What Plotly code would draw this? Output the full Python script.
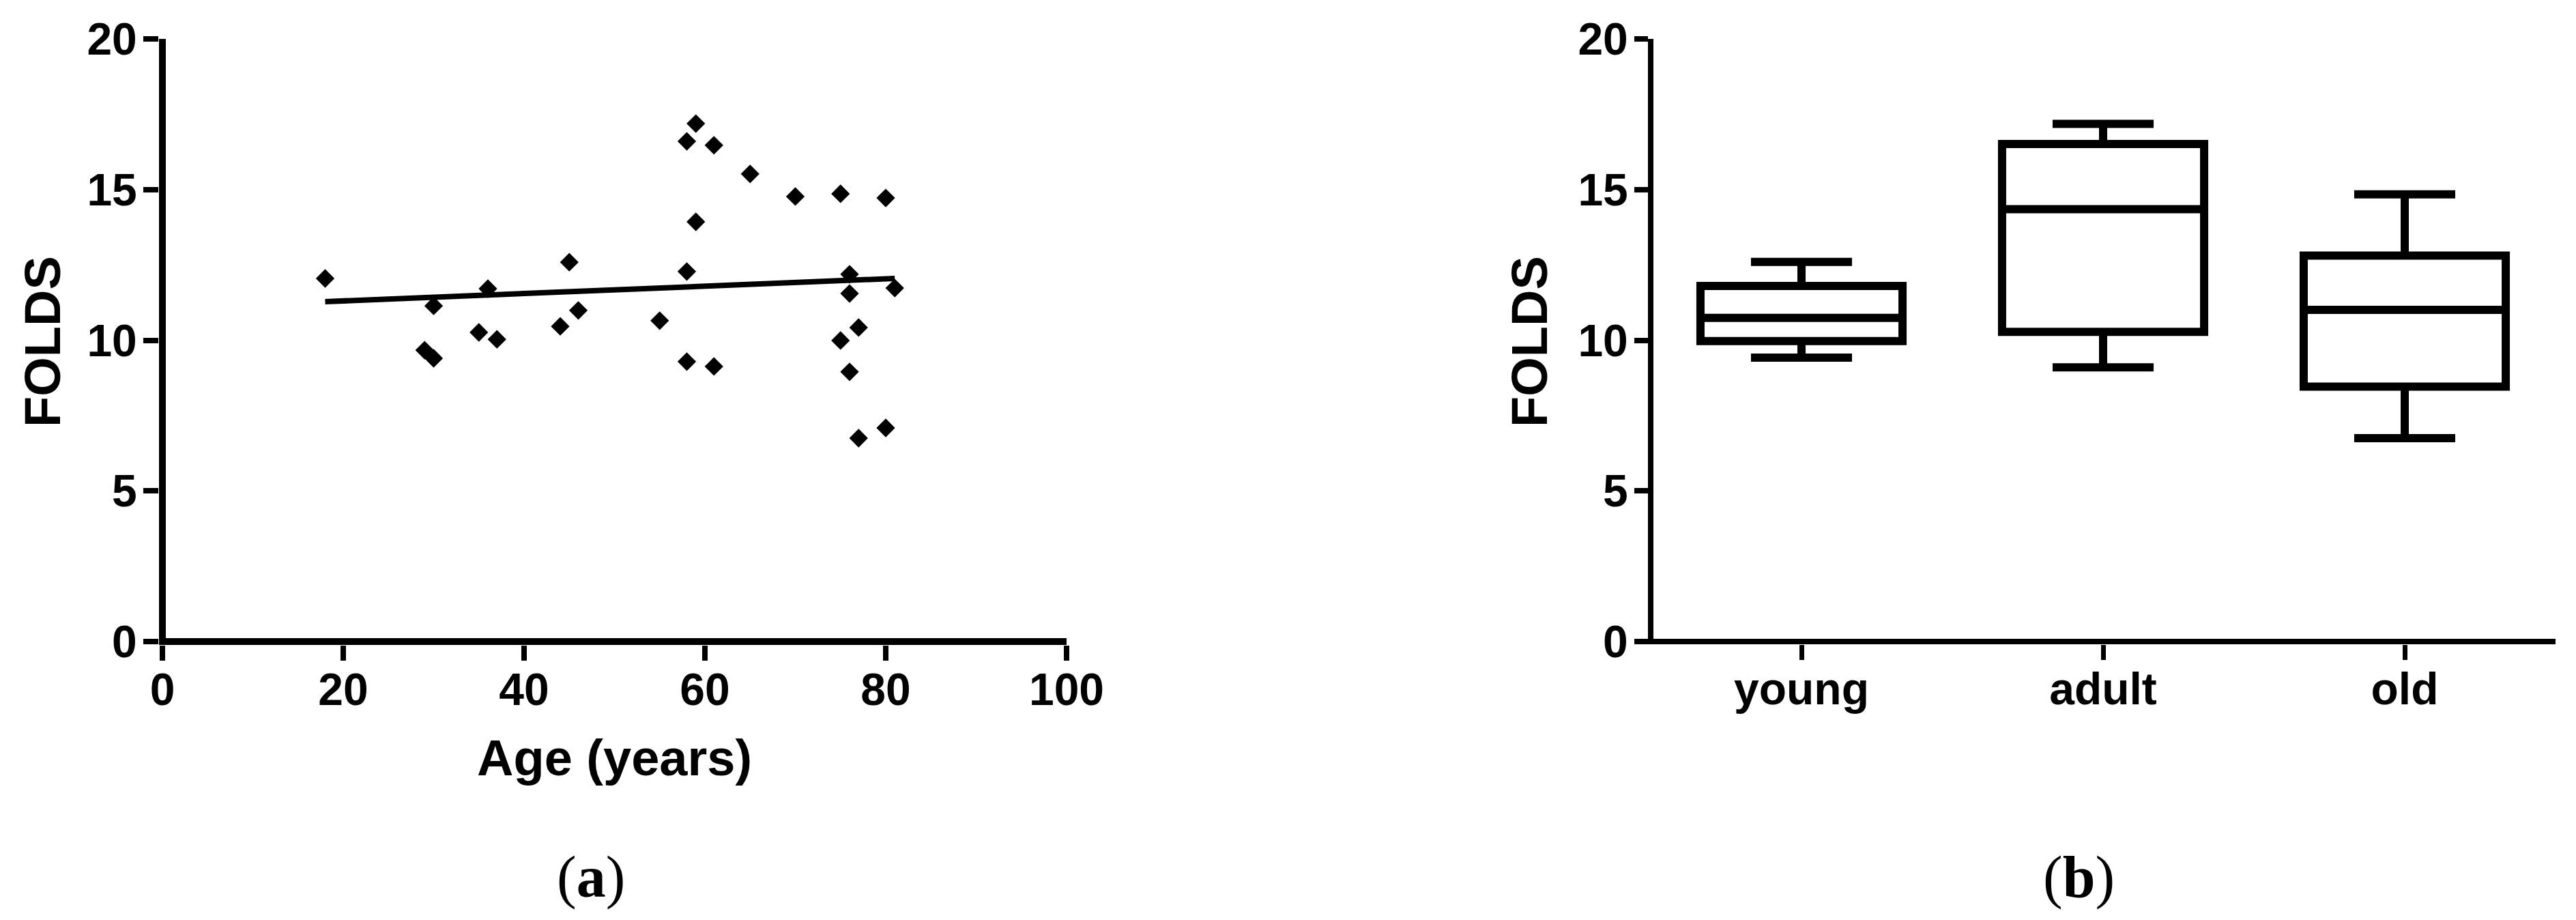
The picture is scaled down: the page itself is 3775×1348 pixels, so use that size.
import plotly.graph_objects as go

# ---- data ----
age = [18, 29, 30, 30, 35, 36, 37, 44, 45, 46,
       55, 58, 58, 58, 59, 59, 61, 61, 65, 70,
       75, 75, 76, 76, 76, 77, 77, 80, 80, 81]
folds = [12.05, 9.67, 9.40, 11.14, 10.26, 11.71, 10.03, 10.46, 12.59, 10.99,
         10.65, 16.60, 12.28, 9.29, 17.19, 13.93, 16.47, 9.13, 15.52, 14.77,
         14.86, 9.99, 12.19, 11.55, 8.95, 10.42, 6.75, 14.72, 7.09, 11.73]

fit_age = [18, 81]
fit_folds = [11.28, 12.05]

groups = ["young", "adult", "old"]
box_low = [9.42, 9.10, 6.75]
box_q1 = [9.97, 10.28, 8.46]
box_med = [10.74, 14.35, 11.01]
box_q3 = [11.80, 16.51, 12.81]
box_high = [12.60, 17.18, 14.84]

x_ticks = [0, 20, 40, 60, 80, 100]
y_ticks = [0, 5, 10, 15, 20]

W, H = 3775, 1348
OFF = 8  # default page body margin
FW, FH = W - OFF, H - OFF
FONT = "Liberation Sans"

def px_x(p):
    return (p - OFF) / FW

def px_y(p):
    return 1 - (p - OFF) / FH

# pixel layout (axis-line centres)
LX0, LX1 = 238, 1563      # left panel x: 0 .. 100
RX0, RX1 = 2419, 3745     # right panel x: -0.5 .. 2.5
Y0, Y20 = 940, 57         # y: 0 .. 20
LW_L, LW_R = 10, 8

ypu = (Y0 - Y20) / 20.0
xpu_l = (LX1 - LX0) / 100.0
xpu_r = (RX1 - RX0) / 3.0
hl, hr = LW_L / 2.0, LW_R / 2.0

fig = go.Figure()

fig.add_trace(go.Scatter(
    x=age, y=folds, mode="markers",
    marker=dict(symbol="diamond", size=21, color="black", line=dict(width=0)),
    xaxis="x", yaxis="y", showlegend=False, cliponaxis=False,
))
fig.add_trace(go.Scatter(
    x=fit_age, y=fit_folds, mode="lines",
    line=dict(color="black", width=8),
    xaxis="x", yaxis="y", showlegend=False,
))

fig.add_trace(go.Box(
    x=groups, q1=box_q1, median=box_med, q3=box_q3,
    lowerfence=box_low, upperfence=box_high,
    width=0.67, whiskerwidth=0.5, boxpoints=False,
    line=dict(color="black", width=12), fillcolor="white",
    xaxis="x2", yaxis="y2", showlegend=False,
))

tickfont = dict(family=FONT, size=66, color="black", weight="bold")
common_axis = dict(ticks="outside", tickcolor="black", showgrid=False,
                   tickfont=tickfont, automargin=False)

fig.update_layout(
    width=FW, height=FH,
    margin=dict(l=0, r=0, t=0, b=0, autoexpand=False),
    paper_bgcolor="white", plot_bgcolor="white",
    # left panel: axis lines drawn as zero lines so they sit on the data zero
    xaxis=dict(domain=[px_x(LX0 - hl), px_x(LX1)],
               range=[-hl / xpu_l, 100], tickvals=x_ticks, anchor="y",
               showline=False, zeroline=True, zerolinecolor="black",
               zerolinewidth=LW_L, ticklen=22, tickwidth=8,
               ticklabelstandoff=-14, **common_axis),
    yaxis=dict(domain=[px_y(Y0 + hl), px_y(Y20)],
               range=[-hl / ypu, 20], tickvals=y_ticks, anchor="x",
               showline=False, zeroline=True, zerolinecolor="black",
               zerolinewidth=LW_L, ticklen=22, tickwidth=8,
               ticklabelstandoff=-4, **common_axis),
    # right panel
    xaxis2=dict(domain=[px_x(RX0 + hr), px_x(RX1)],
                range=[-0.5 + hr / xpu_r, 2.5],
                type="category", categoryorder="array", categoryarray=groups,
                anchor="y2", showline=False, zeroline=False,
                ticklen=22, tickwidth=7, ticklabelstandoff=-14, **common_axis),
    yaxis2=dict(domain=[px_y(Y0 + hr), px_y(Y20)],
                range=[-hr / ypu, 20], tickvals=y_ticks, anchor="x2",
                showline=True, linecolor="black", linewidth=LW_R,
                zeroline=True, zerolinecolor="black", zerolinewidth=LW_R,
                ticklen=20, tickwidth=8, ticklabelstandoff=-4, **common_axis),
)

titlefont = dict(family=FONT, size=74, color="black", weight="bold")
labfont = dict(family="Liberation Serif", size=86, color="black")

fig.add_annotation(text="Age (years)", x=px_x(900), y=px_y(1110),
                   xref="paper", yref="paper", showarrow=False,
                   xanchor="center", yanchor="middle", font=titlefont)
fig.add_annotation(text="FOLDS", x=px_x(62), y=px_y(501),
                   xref="paper", yref="paper", showarrow=False, textangle=-90,
                   xanchor="center", yanchor="middle", font=titlefont)
fig.add_annotation(text="FOLDS", x=px_x(2241), y=px_y(501),
                   xref="paper", yref="paper", showarrow=False, textangle=-90,
                   xanchor="center", yanchor="middle", font=titlefont)
fig.add_annotation(text="(<b>a</b>)", x=px_x(866), y=px_y(1285),
                   xref="paper", yref="paper", showarrow=False,
                   xanchor="center", yanchor="middle", font=labfont)
fig.add_annotation(text="(<b>b</b>)", x=px_x(3046), y=px_y(1285),
                   xref="paper", yref="paper", showarrow=False,
                   xanchor="center", yanchor="middle", font=labfont)

fig.write_html("out.html")
